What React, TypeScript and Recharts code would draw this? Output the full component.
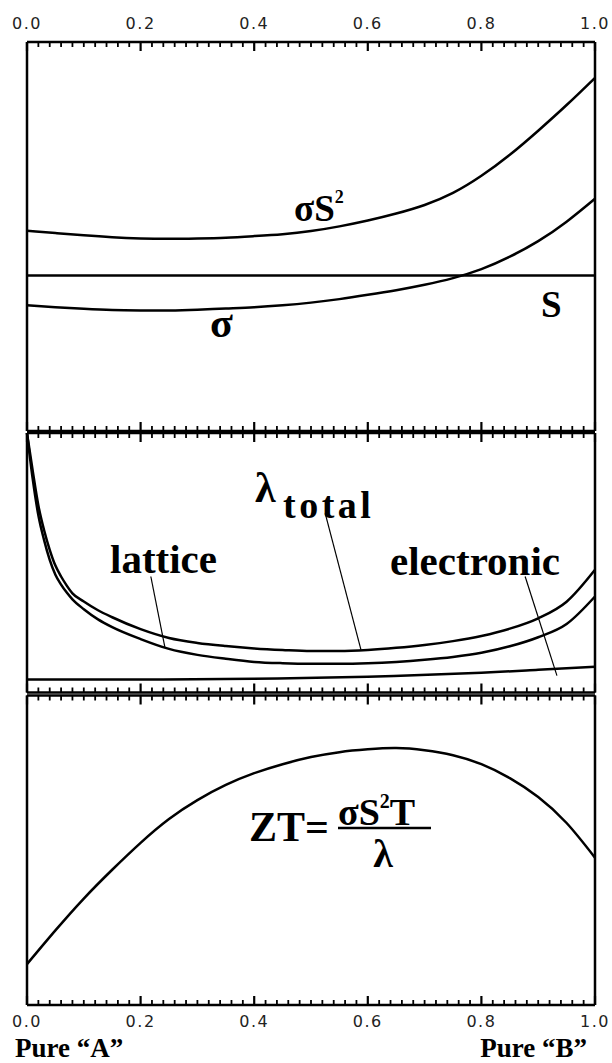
import React from "react"
import { LineChart, Line, XAxis, YAxis, ReferenceLine } from "recharts"

// composition axis: 0 = pure "A", 1 = pure "B"
const TICKS = Array.from({ length: 51 }, (_, i) => i / 50)

// --- panel 1: transport coefficients (arbitrary units, 0..100)
const X_TOP = [0, 0.05, 0.1, 0.15, 0.2, 0.25, 0.3, 0.35, 0.4, 0.45, 0.5, 0.55, 0.6, 0.65, 0.7, 0.75, 0.8, 0.85, 0.9, 0.95, 1.0]
const POWER_FACTOR = [51.5, 50.9, 50.3, 49.8, 49.5, 49.4, 49.5, 49.7, 50.1, 50.6, 51.4, 52.6, 54.1, 55.9, 58.1, 61.2, 65.6, 71.0, 77.2, 83.8, 90.8]
const SIGMA = [32.3, 31.8, 31.4, 31.1, 31.0, 31.0, 31.2, 31.5, 31.8, 32.3, 33.0, 33.9, 35.0, 36.2, 37.6, 39.3, 41.6, 44.8, 48.8, 53.8, 59.7]
const SEEBECK = 40

// --- panel 2: thermal conductivity
const X_MID = [0, 0.01, 0.02, 0.03, 0.04, 0.05, 0.06, 0.07, 0.08, 0.1, 0.125, 0.15, 0.2, 0.25, 0.3, 0.35, 0.4, 0.45, 0.5, 0.55, 0.6, 0.65, 0.7, 0.75, 0.8, 0.85, 0.9, 0.95, 1.0]
const LATTICE = [100, 82.4, 68.3, 58.8, 51.1, 45.4, 41.6, 38.5, 35.9, 32.1, 28.2, 25.2, 20.6, 16.8, 14.5, 13.0, 11.8, 11.3, 11.1, 11.1, 11.3, 11.8, 12.6, 13.7, 15.3, 17.8, 21.3, 26.4, 37.0]
const TOTAL = [100, 85.5, 72.1, 62.6, 55.0, 48.9, 44.7, 41.2, 38.2, 35.1, 31.7, 29.0, 24.4, 21.0, 19.1, 17.9, 17.0, 16.4, 16.0, 16.0, 16.4, 17.2, 18.3, 19.8, 21.8, 24.6, 28.6, 35.0, 47.3]
const X_ELEC = [0, 0.2, 0.4, 0.6, 0.8, 0.9, 1.0]
const ELECTRONIC = [5.0, 5.0, 5.3, 6.1, 7.6, 8.8, 9.9]

// --- panel 3: figure of merit
const X_ZT = [0, 0.05, 0.1, 0.15, 0.2, 0.25, 0.3, 0.35, 0.4, 0.45, 0.5, 0.55, 0.6, 0.65, 0.7, 0.75, 0.8, 0.85, 0.9, 0.95, 1.0]
const ZT = [13.2, 24.1, 34.4, 43.7, 52.4, 60.1, 66.2, 71.1, 74.9, 77.8, 80.1, 81.7, 82.6, 83.0, 82.3, 80.7, 77.8, 73.3, 67.2, 58.8, 47.6]

// leader lines for the panel-2 labels [x1, y1, x2, y2]
const LEADERS = [
  [0.525, 69, 0.588, 16.4],
  [0.218, 44.7, 0.243, 17.2],
  [0.877, 44.7, 0.933, 6.5],
]

const topRows = X_TOP.map((x, i) => ({ x, pf: POWER_FACTOR[i], sigma: SIGMA[i], s: SEEBECK }))
const midRows = X_MID.map((x, i) => ({ x, lattice: LATTICE[i], total: TOTAL[i] }))
const elecRows = X_ELEC.map((x, i) => ({ x, electronic: ELECTRONIC[i] }))
const ztRows = X_ZT.map((x, i) => ({ x, zt: ZT[i] }))

const W = 612
const AXIS_H = 30
const MARGIN_X = { left: 27, right: 17 }
const SERIF = "'Liberation Serif', 'Times New Roman', serif"
const SANS = "'DejaVu Sans', 'Liberation Sans', sans-serif"

function Tick(props: any) {
  const { x, y, payload, dir, labelDy } = props
  const major = Math.round(payload.value * 50) % 10 === 0
  const len = major ? 9 : 5
  return (
    <g>
      <line x1={x} x2={x} y1={y} y2={y + dir * len} stroke="#000" strokeWidth={major ? 2.2 : 1.8} />
      {labelDy != null && major && (
        <text x={x} y={y + labelDy} textAnchor="middle" fontFamily={SANS} fontSize={16} letterSpacing={1.5} fill="#222">
          {payload.value.toFixed(1)}
        </text>
      )}
    </g>
  )
}

function axes(topLabel?: number, bottomLabel?: number) {
  const common = {
    dataKey: "x",
    type: "number" as const,
    domain: [0, 1],
    ticks: TICKS,
    interval: 0,
    height: AXIS_H,
    tickSize: 0,
    tickMargin: 0,
    tickLine: false,
    axisLine: { stroke: "#000", strokeWidth: 2.5 },
  }
  return [
    <XAxis key="b" xAxisId="b" {...common} tick={(p: any) => <Tick {...p} dir={-1} labelDy={bottomLabel} />} />,
    <XAxis key="t" xAxisId="t" orientation="top" {...common} tick={(p: any) => <Tick {...p} dir={1} labelDy={topLabel} />} />,
    <YAxis key="y" hide domain={[0, 100]} />,
    <ReferenceLine key="l" xAxisId="b" x={0} stroke="#000" strokeWidth={2.5} />,
    <ReferenceLine key="r" xAxisId="b" x={1} stroke="#000" strokeWidth={2.5} />,
  ]
}

const lineProps = {
  xAxisId: "b",
  stroke: "#000",
  strokeWidth: 2.5,
  dot: false,
  activeDot: false,
  isAnimationActive: false,
}

export default function App() {
  return (
    <div style={{ position: "absolute", left: 0, top: 0, width: W, height: 1063, background: "#fff" }}>
      <div style={{ position: "absolute", left: 0, top: 0 }}>
        <LineChart width={W} height={490} data={topRows} margin={{ top: 12, bottom: 29, ...MARGIN_X }}>
          {axes(-13, undefined)}
          <Line {...lineProps} type="natural" dataKey="pf" />
          <Line {...lineProps} type="natural" dataKey="sigma" />
          <Line {...lineProps} type="linear" dataKey="s" />
        </LineChart>
      </div>
      <div style={{ position: "absolute", left: 0, top: 370 }}>
        <LineChart width={W} height={380} data={midRows} margin={{ top: 33, bottom: 27.5, ...MARGIN_X }}>
          {axes()}
          <Line {...lineProps} type="monotone" dataKey="total" />
          <Line {...lineProps} type="monotone" dataKey="lattice" />
          <Line {...lineProps} type="natural" data={elecRows} dataKey="electronic" />
          {LEADERS.map(([x1, y1, x2, y2], i) => (
            <ReferenceLine
              key={i}
              xAxisId="b"
              segment={[{ x: x1, y: y1 }, { x: x2, y: y2 }]}
              stroke="#000"
              strokeWidth={1.2}
              ifOverflow="visible"
            />
          ))}
        </LineChart>
      </div>
      <div style={{ position: "absolute", left: 0, top: 630 }}>
        <LineChart width={W} height={433} data={ztRows} margin={{ top: 35.5, bottom: 28, ...MARGIN_X }}>
          {axes(undefined, 22)}
          <Line {...lineProps} type="natural" dataKey="zt" />
        </LineChart>
      </div>
      <svg
        width={W}
        height={1063}
        style={{ position: "absolute", left: 0, top: 0, pointerEvents: "none" }}
        fontFamily={SERIF}
        fontWeight="bold"
        fill="#000"
      >
        <text x={294} y={221} fontSize={37}>
          σS<tspan fontSize={18} dy={-18}>2</tspan>
        </text>
        <text x={210} y={337} fontSize={42}>σ</text>
        <text x={541} y={317} fontSize={37}>S</text>

        <text x={255} y={502} fontSize={42}>λ</text>
        <text x={283} y={518} fontSize={38} letterSpacing={3.5}>total</text>
        <text x={110} y={573} fontSize={41}>lattice</text>
        <text x={390} y={575} fontSize={41}>electronic</text>

        <text x={249} y={841} fontSize={42}>ZT=</text>
        <text x={338} y={825} fontSize={38}>
          σS<tspan fontSize={20} dy={-17}>2</tspan>
          <tspan dy={17}>T</tspan>
        </text>
        <line x1={338} x2={431} y1={828} y2={828} stroke="#000" strokeWidth={2.5} />
        <text x={383} y={867} fontSize={40} textAnchor="middle">λ</text>

        <text x={15} y={1057} fontSize={27}>Pure “A”</text>
        <text x={587} y={1057} fontSize={27} textAnchor="end">Pure “B”</text>
      </svg>
    </div>
  )
}
